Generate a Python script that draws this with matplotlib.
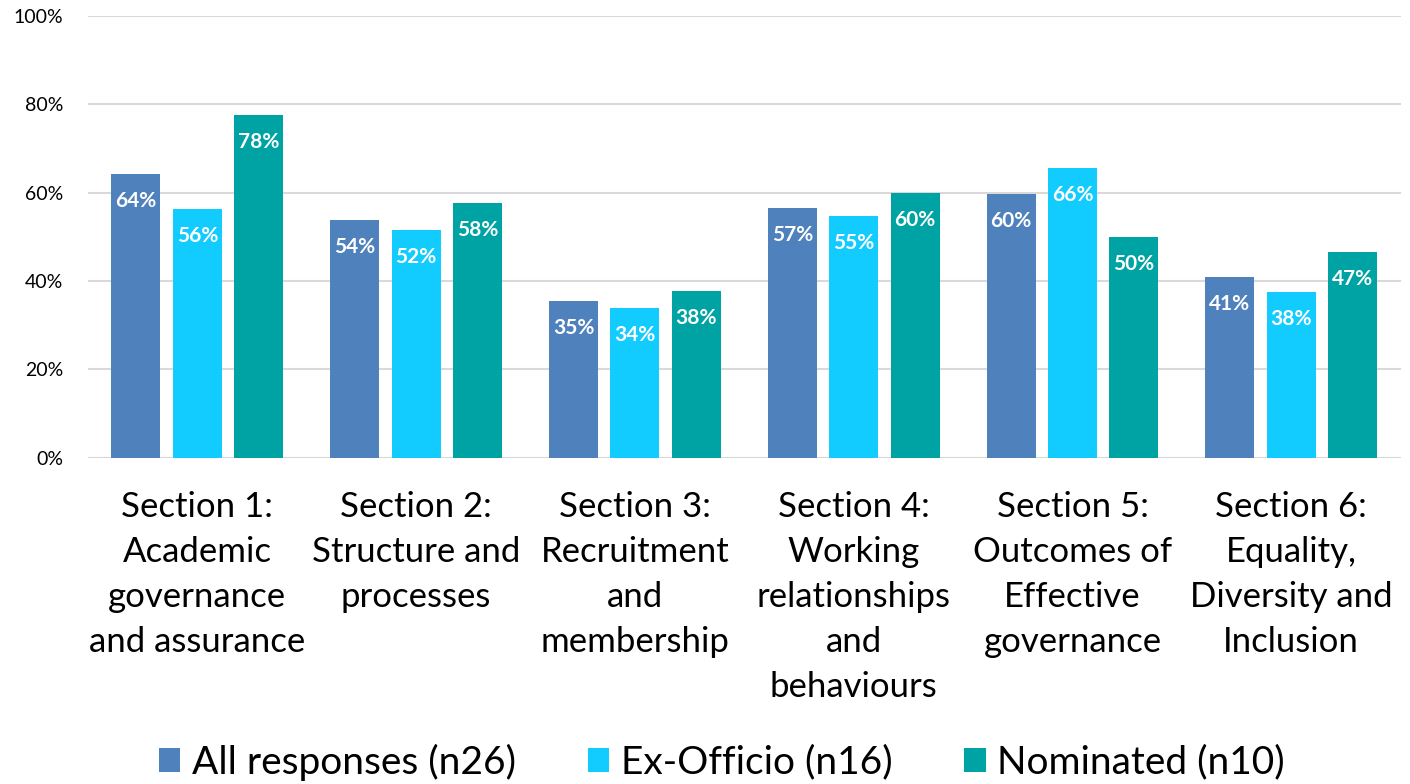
import matplotlib.pyplot as plt
import numpy as np

plt.rcParams['font.family'] = ['Lato', 'DejaVu Sans']

categories = ["Section 1:\nAcademic\ngovernance\nand assurance",
              "Section 2:\nStructure and\nprocesses",
              "Section 3:\nRecruitment\nand\nmembership",
              "Section 4:\nWorking\nrelationships\nand\nbehaviours",
              "Section 5:\nOutcomes of\nEffective\ngovernance",
              "Section 6:\nEquality,\nDiversity and\nInclusion"]
series_names = ["All responses (n26)", "Ex-Officio (n16)", "Nominated (n10)"]
all_responses = [64.3, 53.8, 35.4, 56.6, 59.6, 41.0]
ex_officio = [56.3, 51.6, 33.9, 54.8, 65.6, 37.6]
nominated = [77.6, 57.6, 37.8, 60.0, 50.0, 46.6]
colors = ["#4F81BD", "#12CCFF", "#00A3A3"]

fig = plt.figure(figsize=(14.1, 7.84), dpi=100)
ax = fig.add_axes([0.0624, 0.416, 0.931, 0.564])

ind = np.arange(len(categories))
width = 0.224
step = 0.281
for k, (vals, name) in enumerate(zip([all_responses, ex_officio, nominated], series_names)):
    xs = ind + (k - 1) * step
    ax.bar(xs, vals, width, color=colors[k], label=name, zorder=2)
    for x, v in zip(xs, vals):
        ax.annotate(f"{v:.0f}%", (x, v), xytext=(0, -19.5), textcoords="offset points",
                    ha="center", va="center", color="white", fontweight="bold", fontsize=15)

ax.set_ylim(0, 100)
ax.set_xlim(-0.5, 5.5)
ax.set_yticks(range(0, 101, 20))
ax.set_yticklabels([f"{t}%" for t in range(0, 101, 20)], fontsize=14)
ax.yaxis.grid(True, color="#D9D9D9", linewidth=1.5, zorder=0)
ax.set_xticks(ind)
ax.set_xticklabels(categories, fontsize=25, linespacing=1.5)
ax.tick_params(axis="both", length=0)
ax.tick_params(axis="x", pad=24)
ax.tick_params(axis="y", pad=18)
for s in ax.spines.values():
    s.set_visible(False)

fig.legend(loc="center", bbox_to_anchor=(0.512, 0.028), ncol=3, frameon=False, fontsize=28,
           handlelength=0.55, handleheight=0.55, handletextpad=0.3, columnspacing=1.85)

plt.savefig("out.png", dpi=100)
